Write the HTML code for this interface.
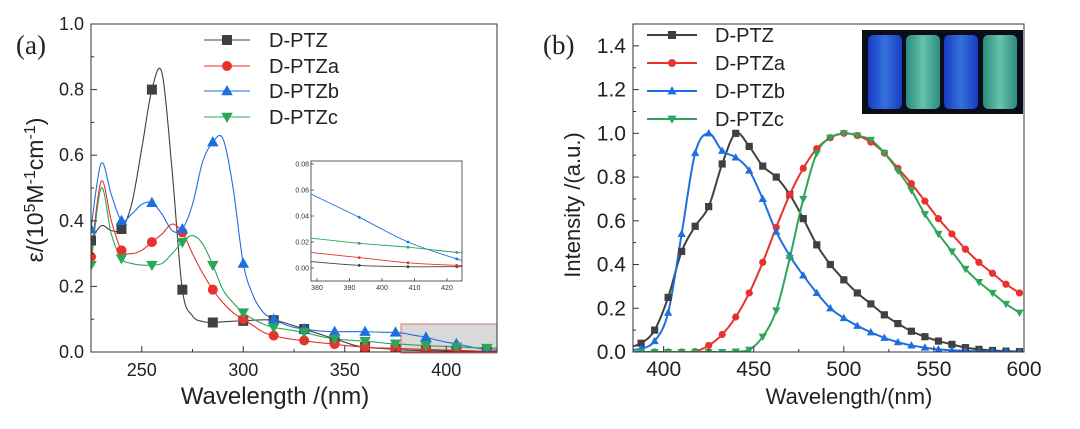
<!DOCTYPE html>
<html><head><meta charset="utf-8"><style>
html,body{margin:0;padding:0;background:#fff;}
svg{display:block;font-family:"Liberation Sans",sans-serif;}
</style></head><body>
<svg id="fig" width="1080" height="429" viewBox="0 0 1080 429">
<g id="pa"></g>
<g id="pb"></g>
</svg>
<script>
// ===== Panel A data =====
const absX = [225,230,235,240,245,250,255,260,265,270,275,280,285,290,295,300,305,310,315,320,325,330,335,340,345,350,355,360,365,370,375,380,385,390,395,400,405,410,415,420,425];
const absPTZ = [0.34,0.385,0.37,0.375,0.45,0.62,0.80,0.85,0.55,0.19,0.11,0.093,0.09,0.092,0.094,0.095,0.097,0.098,0.097,0.09,0.08,0.07,0.06,0.05,0.04,0.03,0.02,0.015,0.012,0.01,0.008,0.006,0.005,0.004,0.004,0.003,0.003,0.002,0.002,0.001,0.001];
const absPTZa = [0.29,0.52,0.40,0.31,0.30,0.31,0.335,0.36,0.39,0.365,0.30,0.24,0.19,0.15,0.12,0.10,0.08,0.06,0.05,0.043,0.038,0.035,0.03,0.027,0.024,0.02,0.017,0.015,0.013,0.012,0.011,0.01,0.009,0.008,0.007,0.006,0.005,0.004,0.003,0.002,0.002];
const absPTZb = [0.375,0.575,0.48,0.40,0.42,0.45,0.455,0.42,0.37,0.375,0.45,0.58,0.64,0.65,0.50,0.27,0.17,0.12,0.10,0.085,0.075,0.07,0.066,0.063,0.062,0.062,0.062,0.062,0.061,0.06,0.06,0.056,0.05,0.045,0.037,0.03,0.025,0.018,0.012,0.008,0.006];
const absPTZc = [0.265,0.50,0.36,0.285,0.27,0.265,0.265,0.27,0.30,0.335,0.355,0.33,0.265,0.19,0.15,0.12,0.10,0.085,0.075,0.07,0.065,0.06,0.052,0.045,0.04,0.037,0.035,0.033,0.03,0.027,0.025,0.023,0.021,0.02,0.018,0.017,0.016,0.014,0.013,0.012,0.012];
const insetX = [378,393,408,423,425];
const insetPTZ = [0.005,0.002,0.001,0.001,0.001];
const insetPTZa = [0.012,0.008,0.004,0.002,0.002];
const insetPTZb = [0.057,0.039,0.020,0.007,0.006];
const insetPTZc = [0.023,0.019,0.016,0.012,0.012];
const aXTicks = [250,300,350,400];
const aYTicks = [0.0,0.2,0.4,0.6,0.8,1.0];
const insetXTicks = [380,390,400,410,420];
const insetYTicks = [0.00,0.02,0.04,0.06,0.08];
// ===== Panel B data =====
const emX = [380,387.5,395,402.5,410,417.5,425,432.5,440,447.5,455,462.5,470,477.5,485,492.5,500,507.5,515,522.5,530,537.5,545,552.5,560,567.5,575,582.5,590,597.5];
const emPTZ = [0.02,0.04,0.10,0.25,0.46,0.575,0.665,0.86,1.0,0.94,0.85,0.80,0.72,0.61,0.49,0.40,0.33,0.27,0.22,0.17,0.13,0.095,0.07,0.05,0.035,0.02,0.012,0.007,0.004,0.002];
const emPTZa = [0,0,0,0,0,0.002,0.03,0.08,0.16,0.27,0.41,0.57,0.72,0.84,0.93,0.98,1.0,0.99,0.96,0.91,0.84,0.77,0.69,0.61,0.54,0.47,0.41,0.36,0.31,0.27];
const emPTZb = [0.01,0.015,0.05,0.18,0.54,0.91,1.0,0.92,0.89,0.83,0.70,0.55,0.44,0.35,0.27,0.20,0.155,0.12,0.09,0.065,0.045,0.03,0.02,0.012,0.008,0.005,0.003,0.002,0.001,0.001];
const emPTZc = [0,0,0,0,0,0,0,0,0.002,0.01,0.07,0.19,0.43,0.70,0.91,0.98,1.0,0.99,0.97,0.91,0.83,0.74,0.63,0.54,0.46,0.38,0.32,0.27,0.22,0.18];
const bXTicks = [400,450,500,550,600];
const bYTicks = [0.0,0.2,0.4,0.6,0.8,1.0,1.2,1.4];
const seriesNames = ["D-PTZ","D-PTZa","D-PTZb","D-PTZc"];
const colors = ["#404040","#e8322e","#1e6fe0","#2ea65a"];
const shapes = ["square","circle","up","down"];

const NS="http://www.w3.org/2000/svg";
function mk(parent,tag,attrs){const e=document.createElementNS(NS,tag);for(const k in attrs)e.setAttribute(k,attrs[k]);parent.appendChild(e);return e;}
function smooth(pts){
  if(pts.length<2)return "";
  let d="M"+pts[0][0].toFixed(2)+","+pts[0][1].toFixed(2);
  for(let i=0;i<pts.length-1;i++){
    const p0=pts[Math.max(0,i-1)],p1=pts[i],p2=pts[i+1],p3=pts[Math.min(pts.length-1,i+2)];
    const c1=[p1[0]+(p2[0]-p0[0])/6,p1[1]+(p2[1]-p0[1])/6];
    const c2=[p2[0]-(p3[0]-p1[0])/6,p2[1]-(p3[1]-p1[1])/6];
    d+=" C"+c1[0].toFixed(2)+","+c1[1].toFixed(2)+" "+c2[0].toFixed(2)+","+c2[1].toFixed(2)+" "+p2[0].toFixed(2)+","+p2[1].toFixed(2);
  }
  return d;
}
function marker(g,shape,x,y,s,col){
  let e;
  if(shape==="square"){e=mk(g,"rect",{x:x-s,y:y-s,width:2*s,height:2*s,fill:col});}
  else if(shape==="circle"){e=mk(g,"circle",{cx:x,cy:y,r:s,fill:col});}
  else if(shape==="up"){e=mk(g,"polygon",{points:`${x},${y-s*1.2} ${x-s*1.15},${y+s*0.85} ${x+s*1.15},${y+s*0.85}`,fill:col});}
  else {e=mk(g,"polygon",{points:`${x},${y+s*1.2} ${x-s*1.15},${y-s*0.85} ${x+s*1.15},${y-s*0.85}`,fill:col});}
  
  
  return e;
}

// ===== Panel A =====
(function(){
  const g=document.getElementById("pa");
  const L=91,R=497,T=24,B=352;
  const xs=v=>L+(v-225)*(R-L)/(425-225);
  const ys=v=>B-v*(B-T)/1.0;
  const t=mk(g,"text",{x:16,y:54,"font-family":"Liberation Serif,serif","font-size":27,fill:"#222"});t.textContent="(a)";
  
  mk(g,"defs",{}).innerHTML='<clipPath id="clipA"><rect x="91" y="24" width="406" height="328"/></clipPath><clipPath id="clipI"><rect x="311" y="161" width="151" height="120"/></clipPath>';
  // highlight box
  const hb=mk(g,"rect",{x:401,y:324,width:96,height:29,fill:"#cfcfcf","fill-opacity":0.8,stroke:"#e07070","stroke-width":1});
  
  const series=[absPTZ,absPTZa,absPTZb,absPTZc];
  const cg=mk(g,"g",{"clip-path":"url(#clipA)"});
  series.forEach((s,k)=>{
    const p=mk(cg,"path",{d:smooth(absX.map((x,i)=>[xs(x),ys(s[i])])),fill:"none",stroke:colors[k],"stroke-width":1.1});
    
  });
  series.forEach((s,k)=>{absX.forEach((x,i)=>{if(i%3===0)marker(cg,shapes[k],xs(x),ys(s[i]),5,colors[k]);});});
  // frame
  const fr=mk(g,"rect",{x:L,y:T,width:R-L,height:B-T,fill:"none",stroke:"#333","stroke-width":1});
  
  for(let v=225;v<=425;v+=25){const x=xs(v);const big=(v%50===0);mk(g,"line",{x1:x,x2:x,y1:B,y2:B-(big?6:3),stroke:"#333"});}
  aXTicks.forEach(v=>{const e=mk(g,"text",{x:xs(v),y:376,"text-anchor":"middle","font-size":18,fill:"#222"});e.textContent=v;
    });
  for(let v=0;v<=1.0001;v+=0.1){const y=ys(v);const big=Math.round(v*10)%2===0;mk(g,"line",{x1:L,x2:L+(big?6:3),y1:y,y2:y,stroke:"#333"});}
  aYTicks.forEach(v=>{const e=mk(g,"text",{x:84,y:ys(v)+6,"text-anchor":"end","font-size":18,fill:"#222"});e.textContent=v.toFixed(1);
    });
  const xt=mk(g,"text",{x:275,y:404,"text-anchor":"middle","font-size":24,fill:"#222"});xt.textContent="Wavelength /(nm)";
  
  const yt=mk(g,"text",{transform:"translate(43,190) rotate(-90)","text-anchor":"middle","font-size":23,fill:"#222"});
  yt.innerHTML='ε/(10<tspan dy="-8" font-size="16">5</tspan><tspan dy="8">M</tspan><tspan dy="-8" font-size="16">-1</tspan><tspan dy="8">cm</tspan><tspan dy="-8" font-size="16">-1</tspan><tspan dy="8">)</tspan>';
  
  // legend
  const rows=[40,66,91,117];
  seriesNames.forEach((n,k)=>{
    const lg=mk(g,"g",{});
    mk(lg,"line",{x1:204,x2:250,y1:rows[k],y2:rows[k],stroke:colors[k],"stroke-width":1.1});
    marker(lg,shapes[k],227,rows[k],5,colors[k]);
    const tx=mk(lg,"text",{x:269,y:rows[k]+7,"font-size":20,fill:"#222"});tx.textContent=n;
  });
  // inset
  const IL=311,IR=462,IT=161,IB=281;
  const ix=v=>317+(v-380)*(447-317)/40;
  const iy=v=>268-v*(268-164)/0.08;
  const ig=mk(g,"g",{});
  mk(ig,"rect",{x:IL,y:IT,width:IR-IL,height:IB-IT,fill:"#fff",stroke:"#333","stroke-width":0.8});
  const icg=mk(ig,"g",{"clip-path":"url(#clipI)"});
  [insetPTZ,insetPTZa,insetPTZb,insetPTZc].forEach((s,k)=>{
    const p=mk(icg,"path",{d:smooth(insetX.map((x,i)=>[ix(x),iy(s[i])])),fill:"none",stroke:colors[k],"stroke-width":0.9});
    
    insetX.forEach((x,i)=>{if(i>=1&&i<=3){marker(icg,"circle",ix(x),iy(s[i]),1.4,colors[k]);}});
  });
  insetXTicks.forEach(v=>{mk(ig,"line",{x1:ix(v),x2:ix(v),y1:IB,y2:IB-3,stroke:"#333","stroke-width":0.7});
    const e=mk(ig,"text",{x:ix(v),y:IB+9,"text-anchor":"middle","font-size":7,fill:"#333"});e.textContent=v;});
  insetYTicks.forEach(v=>{mk(ig,"line",{x1:IL,x2:IL+3,y1:iy(v),y2:iy(v),stroke:"#333","stroke-width":0.7});
    const e=mk(ig,"text",{x:IL-2,y:iy(v)+2.5,"text-anchor":"end","font-size":7,fill:"#333"});e.textContent=v.toFixed(2);});
})();

// ===== Panel B =====
(function(){
  const g=document.getElementById("pb");
  const L=633,R=1024,T=24,B=352;
  const xs=v=>L+(v-383)*(R-L)/(600-383);
  const ys=v=>B-v*(B-T)/1.5;
  const t=mk(g,"text",{x:543,y:54,"font-family":"Liberation Serif,serif","font-size":27,fill:"#222"});t.textContent="(b)";
  
  mk(g,"defs",{}).innerHTML='<clipPath id="clipB"><rect x="633" y="24" width="391" height="328"/></clipPath><linearGradient id="v1" x1="0" x2="1"><stop offset="0" stop-color="#1a3fd8"/><stop offset="0.5" stop-color="#3a7cf0"/><stop offset="1" stop-color="#1a3fd8"/></linearGradient><linearGradient id="v2" x1="0" x2="1"><stop offset="0" stop-color="#2f9a86"/><stop offset="0.5" stop-color="#6fd6bc"/><stop offset="1" stop-color="#2f9a86"/></linearGradient>';
  const series=[emPTZ,emPTZa,emPTZb,emPTZc];
  const cg=mk(g,"g",{"clip-path":"url(#clipB)"});
  series.forEach((s,k)=>{
    const p=mk(cg,"path",{d:smooth(emX.map((x,i)=>[xs(x),ys(s[i])])),fill:"none",stroke:colors[k],"stroke-width":2});
    
  });
  series.forEach((s,k)=>{emX.forEach((x,i)=>{marker(cg,shapes[k],xs(x),ys(s[i]),3.6,colors[k]);});});
  // photo inset
  const ph=mk(g,"g",{});
  mk(ph,"rect",{x:862,y:30,width:161,height:84,fill:"#0a0d1c"});
  const vx=[868,906,944,983],vf=["url(#v1)","url(#v2)","url(#v1)","url(#v2)"];
  vx.forEach((x,i)=>{mk(ph,"rect",{x:x,y:35,width:34,height:74,rx:5,fill:vf[i],opacity:0.9});});
  const fr=mk(g,"rect",{x:L,y:T,width:R-L,height:B-T,fill:"none",stroke:"#333","stroke-width":1});
  
  for(let v=400;v<=600;v+=25){const x=xs(v);const big=(v%50===0);mk(g,"line",{x1:x,x2:x,y1:B,y2:B-(big?6:3),stroke:"#333"});}
  bXTicks.forEach(v=>{const e=mk(g,"text",{x:xs(v),y:376,"text-anchor":"middle","font-size":21,fill:"#222"});e.textContent=v;
    });
  for(let v=0;v<=1.5001;v+=0.1){const y=ys(v);const big=Math.round(v*10)%2===0;mk(g,"line",{x1:L,x2:L+(big?6:3),y1:y,y2:y,stroke:"#333"});}
  bYTicks.forEach(v=>{const e=mk(g,"text",{x:626,y:ys(v)+7,"text-anchor":"end","font-size":21,fill:"#222"});e.textContent=v.toFixed(1);
    });
  const xt=mk(g,"text",{x:849,y:404,"text-anchor":"middle","font-size":22,fill:"#222"});xt.textContent="Wavelength/(nm)";
  
  const yt=mk(g,"text",{transform:"translate(580,205) rotate(-90)","text-anchor":"middle","font-size":22,fill:"#222"});yt.textContent="Intensity /(a.u.)";
  
  const rows=[35,63,91,119];
  seriesNames.forEach((n,k)=>{
    const lg=mk(g,"g",{});
    mk(lg,"line",{x1:647,x2:697,y1:rows[k],y2:rows[k],stroke:colors[k],"stroke-width":2});
    marker(lg,shapes[k],672,rows[k],4,colors[k]);
    const tx=mk(lg,"text",{x:715,y:rows[k]+7,"font-size":20,fill:"#222"});tx.textContent=n;
  });
})();
</script>
</body></html>
